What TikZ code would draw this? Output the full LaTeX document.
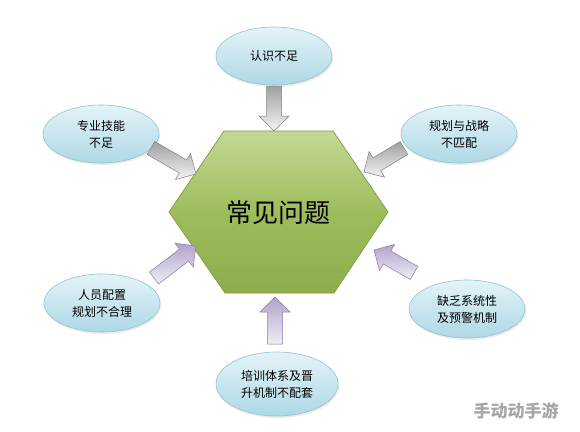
\documentclass[tikz,border=0pt]{standalone}
\usepackage{fontspec}
\newfontfamily\cjk{Noto Sans CJK SC}
\usetikzlibrary{shapes.geometric,calc,shadows}
\definecolor{ellTop}{HTML}{E4F3F8}
\definecolor{ellBot}{HTML}{AED8E5}
\definecolor{ellLine}{HTML}{8DC2D3}
\definecolor{hexTop}{HTML}{C4D895}
\definecolor{hexMid}{HTML}{9DBD5C}
\definecolor{hexBot}{HTML}{8DAD4C}
\definecolor{hexLine}{HTML}{7E9A44}
\definecolor{grayA}{HTML}{F4F4F4}
\definecolor{grayB}{HTML}{A0A0A0}
\definecolor{grayLine}{HTML}{7F7F7F}
\definecolor{lavA}{HTML}{F0ECF6}
\definecolor{lavB}{HTML}{B0A3C9}
\definecolor{lavLine}{HTML}{8878A8}
\tikzset{
  issue/.style={ellipse, draw=ellLine, line width=0.6pt, top color=ellTop, bottom color=ellBot,
     minimum width=116pt, minimum height=58pt, inner sep=0pt, align=center,
     font=\cjk\fontsize{12}{17}\selectfont,
     drop shadow={shadow xshift=1pt, shadow yshift=-2pt, opacity=0.15}},
  grayarrow/.style={draw=grayLine, line width=0.5pt, top color=grayB, bottom color=grayA, line join=miter},
  lavarrow/.style={draw=lavLine, line width=0.5pt, top color=lavB, bottom color=lavA, line join=miter},
}
% block arrow from #1 (tail) to #2 (tip), style #3
\newcommand\blockarr[3]{%
  \path let \p1=(#1), \p2=(#2), \n1={atan2(\y2-\y1,\x2-\x1)}, \n2={veclen(\x2-\x1,\y2-\y1)} in
    \pgfextra{\xdef\arrang{\n1}\xdef\arrlen{\n2}};
  \shade[#3, shift={(#1)}, rotate=\arrang]
    (0,-7.5) -- (\arrlen-15,-7.5) -- (\arrlen-15,-15) -- (\arrlen,0) -- (\arrlen-15,15)
    -- (\arrlen-15,7.5) -- (0,7.5) -- cycle;}
\begin{document}
\begin{tikzpicture}[x=1pt,y=-1pt]
\useasboundingbox (0,0) rectangle (580,431);
\fill[white] (0,0) rectangle (580,431);
% hexagon
\coordinate (h1) at (169,212);
\coordinate (h2) at (224,131);
\coordinate (h3) at (333,131);
\coordinate (h4) at (388,212);
\coordinate (h5) at (334,293);
\coordinate (h6) at (225,293);
\shade[top color=hexTop, bottom color=hexBot, middle color=hexMid, draw=hexLine, line width=0.7pt]
  (h1) -- (h2) -- (h3) -- (h4) -- (h5) -- (h6) -- cycle;
\node[font=\cjk\fontsize{26}{30}\selectfont] (hex) at (278,213) {常见问题};
% ellipses
\node[issue] (top) at (274,56) {认识不足};
\node[issue] (tl) at (101,134) {专业技能\\不足};
\node[issue] (tr) at (459,134) {规划与战略\\不匹配};
\node[issue] (bl) at (102,303) {人员配置\\规划不合理};
\node[issue] (br) at (467,309) {缺乏系统性\\及预警机制};
\node[issue, minimum width=122pt, minimum height=64pt] (bot) at (277,384) {培训体系及晋\\升机制不配套};
% arrow anchor coordinates
\coordinate (a1s) at (274,86);  \coordinate (a1e) at (274,131);
\coordinate (a2s) at (151,148); \coordinate (a2e) at (196,174);
\coordinate (a3s) at (404,148); \coordinate (a3e) at (364,172);
\coordinate (a4s) at (154,278); \coordinate (a4e) at (196,246);
\coordinate (a5s) at (414,273); \coordinate (a5e) at (374,250);
\coordinate (a6s) at (275,344); \coordinate (a6e) at (275,297);
\blockarr{a1s}{a1e}{grayarrow}
\blockarr{a2s}{a2e}{grayarrow}
\blockarr{a3s}{a3e}{grayarrow}
\blockarr{a4s}{a4e}{lavarrow}
\blockarr{a5s}{a5e}{lavarrow}
\blockarr{a6s}{a6e}{lavarrow}
% watermark
\node[font=\cjk\bfseries\fontsize{17}{20}\selectfont, text=black!35] (wm) at (516,411) {手动动手游};
\end{tikzpicture}
\end{document}
